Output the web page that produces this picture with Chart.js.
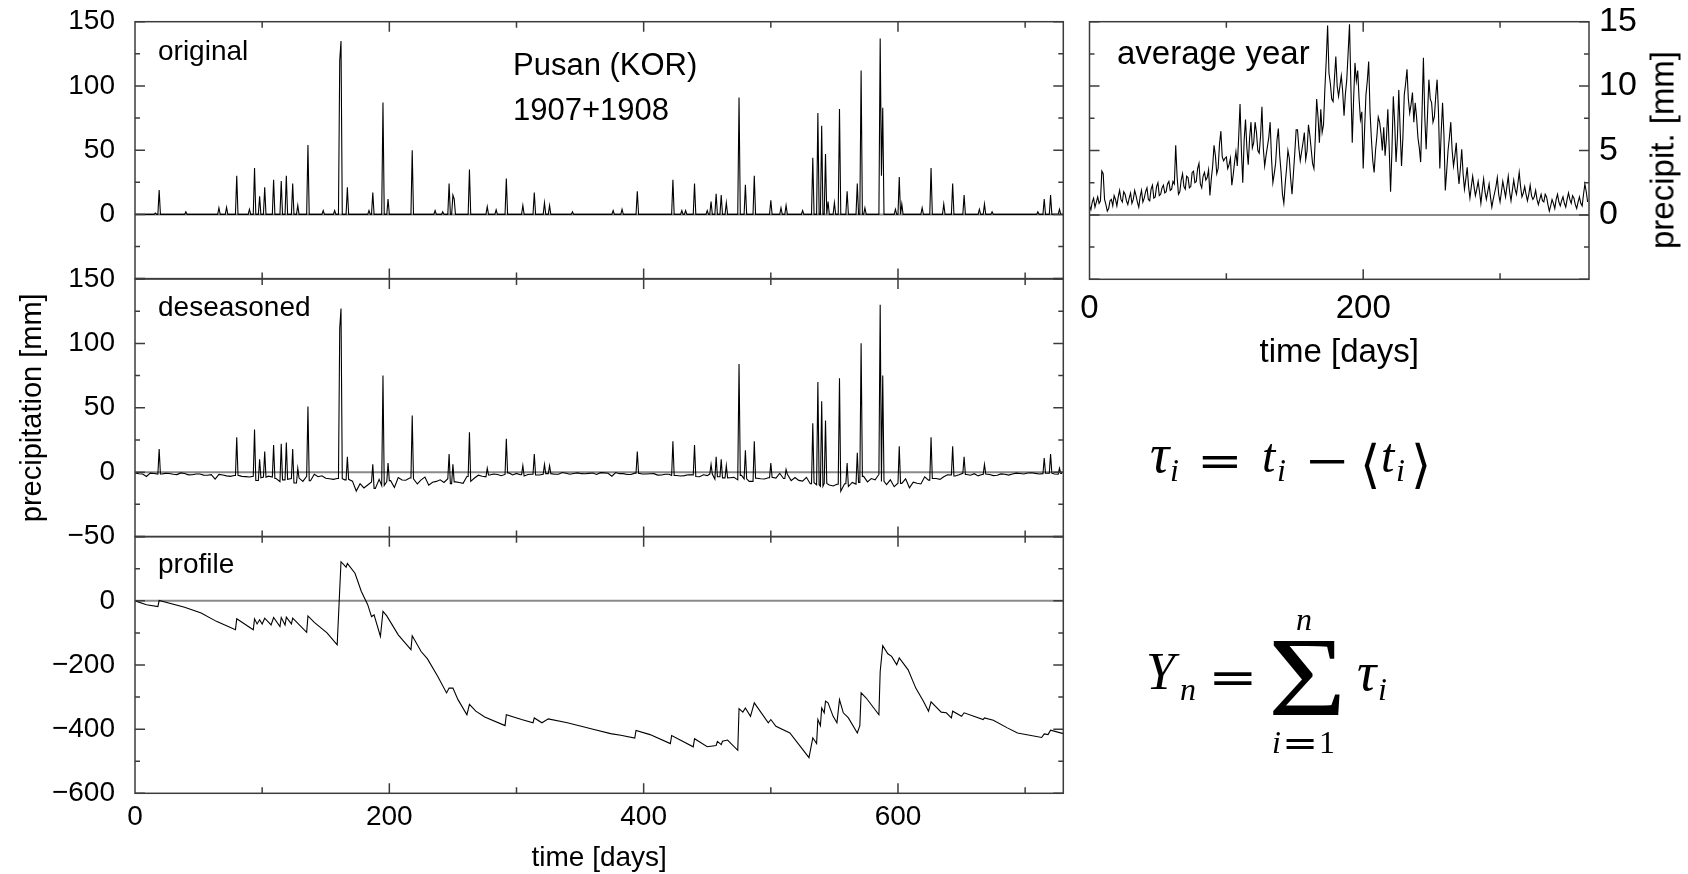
<!DOCTYPE html>
<html><head><meta charset="utf-8">
<script src="https://cdn.jsdelivr.net/npm/chart.js@4.4.1/dist/chart.umd.min.js"></script>
<style>
html,body{margin:0;padding:0;background:#fff;width:1688px;height:874px;overflow:hidden;position:relative;}
canvas{position:absolute;left:0;top:0;}
.t{position:absolute;white-space:nowrap;line-height:1;color:#000;font-family:"Liberation Sans",Arial,Helvetica,sans-serif;}
.m{position:absolute;white-space:nowrap;line-height:1;color:#000;font-family:"Liberation Serif","Times New Roman",serif;transform-origin:0 50%;}
.d{position:absolute;white-space:nowrap;line-height:1;color:#000;font-family:"DejaVu Sans",sans-serif;transform-origin:0 50%;}
</style></head><body>
<canvas id="c1" width="1688" height="874"></canvas>
<canvas id="c2" width="1688" height="874"></canvas>
<canvas id="c3" width="1688" height="874"></canvas>
<canvas id="c4" width="1688" height="874"></canvas>
<script>
// ---------------- DATA ----------------
// original daily precipitation, Pusan 1907+1908 (rainy days only; all other days 0)
const origDays = [16,19,40,66,72, 80,90,94,98,102, 109,115,119,124,128, 136,148,157,161,162, 167,184,187,195,199, 218,236,242,247,250, 251,263,277,284,292, 305,314,322,326,344, 376,383,395,423,430, 433,440,450,453,457, 461,465,475,480,487, 500,508,512,525,533, 537,540,543,545,550, 554,560,568,571,574, 586,587,588,598,601, 603,619,626,636,643, 652,664,668,674,710, 715,720,727];
const origMm   = [1,19,2,5,5.5, 30,4,36,14,21, 27,26,30,24,7, 54,3,3,120,135, 21,3,17,87,12, 50,3,2,24,15, 12,35,6,3.5,28, 7,17,9,7,2, 3,4,18,27,3, 3,24,3,10,16, 15,9,91,23,30, 11,5,7,3,44, 79,69,47,10,9, 82,18,24,112,5, 137,30,83,4,29, 8,5,36,8,24, 15,4,8,2,2, 12,15,4];

// deseasoned series: rainy-day values, and dry-day values sampled every 3 days (day 0..729)
const dsDays = [19,80,94,98,102, 109,115,119,124,128, 136,161,162,167,187, 195,199,218,247,250, 263,277,292,305,314, 322,326,395,423,440, 453,457,461,465,475, 480,487,500,512,533, 537,540,543,554,560, 568,571,586,588,601, 626,643,652,668,715, 720,727];
const dsMm   = [18,27,33,10,16, 21,22,23,18,3, 51,112,127,12,6, 75,7,44,14,6, 31,3,26,5,14, 6,5,16,24,21, 6,12,10,5,84, 17,24,7,2,38, 70,55,40,73,7, 15,100,130,75,20, 27,20,12,6,11, 14,3];
const dsDryDays1 = {start: 0, step: 3};
const dsDry1 = [
 -0.7,-1.3,-1.4,-3.4,-0.8,-1.1,-1.5,-1.4,-1.0,-1.1, -1.7,-1.9,-0.6,-1.0,-2.1,-2.0,-1.4,-1.5,-2.3,-2.4,
 -2.0,-5.4,-1.8,-2.2,-2.9,-3.3,-2.6,-2.4,-3.3,-3.5, -3.8,-3.2,-6.5,-4.4,-3.9,-3.1,-3.8,-5.0,-7.4,-6.0,
 -5.6,-5.0,-8.4,-4.6,-7.2,-3.2,-6.7,-1.6,-3.6,-2.8, -4.8,-5.2,-5.6,-5.0,-5.1,-6.0,-5.6,-7.0,-14.7,-9.0,
 -12.3,-10.0,-7.7,-12.6,-5.6,-10.4,-7.4,-6.6,-11.9,-4.2, -6.1,-6.3,-4.6,-5.2,-9.2,-6.0,-3.8,-10.2,-7.9,-7.2,
 -6.0,-8.0,-5.1,-9.0,-7.6,-8.0,-8.7,-3.4,-7.2,-4.6, -2.4,-3.2,-3.7,-2.2,-1.5,-1.8,-2.8,-1.8,-0.6,-2.2,
 -1.0,-2.0,-3.0,-1.9,-1.6,-2.2,-2.2,-1.6,-1.2,-1.2, -1.6,-1.6,-0.3,-0.9,-1.6,-1.1,-0.6,-1.2,-1.3,-1.0,
 -0.7,-1.8];
const dsDryDays2 = {start: 366, step: 3};
const dsDry2 = [
 -0.4,-0.6,-0.9,-3.2,-0.3,-1.2,-1.2,-1.9,-1.8,-0.8, -0.9,-1.5,-1.4,-1.3,-1.2,-2.3,-2.2,-1.6,-1.7,-2.6,
 -2.6,-3.0,-2.7,-2.0,-2.1,-3.4,-3.6,-2.1,-2.7,-1.5, -5.4,-3.6,-4.5,-4.5,-4.4,-4.1,-6.0,-2.5,-5.2,-7.2,
 -7.2,-4.8,-5.2,-5.3,-4.4,-4.0,-4.6,-0.9,-5.0,-1.6, -6.6,-4.2,-6.4,-7.0,-4.0,-9.0,-8.2,-9.8,-11.0,-8.8,
 -10.0,-10.8,-9.4,-14.8,-9.0,-11.2,-8.0,-9.3,-8.0,-3.3, -7.6,-5.0,-6.0,-1.8,-7.2,-9.7,-6.0,-11.3,-8.6,-8.7,
 -5.2,-12.2,-7.8,-8.7,-9.2,-3.6,-6.2,-5.0,-5.0,-5.6, -3.6,-2.0,-2.2,-3.0,-2.0,-0.9,-1.8,-2.4,-1.2,-2.9,
 -1.8,-1.4,-1.8,-2.7,-2.4,-1.4,-1.6,-2.3,-1.4,-0.8, -1.1,-1.4,-0.7,-0.5,-1.0,-1.4,-1.2,-0.9,-0.8,-1.4,
 -1.6,-1.0];

// profile (cumulative sum of deseasoned series), vertices
const profDays = [0,9,18,19,39, 52,64,79,80,93, 94,96,98,100,102, 107,109,114,115,118, 119,123,124,135,136, 141,151,159,162,166, 167,173,178,183,186, 188,193,195,198,207, 217,218,225,230,238, 245,247,250,254,261, 263,268,275,291,292, 304,313,314,320,325, 340,361,374,382,393, 394,405,421,422,439, 440,450,457,458,461, 462,466,474,475,478, 480,484,487,498,500, 504,515,530,533,536, 537,539,540,542,543, 545,549,552,554,557, 561,568,570,571,575, 585,586,588,592,595, 599,601,608,614,620, 624,626,634,638,642, 643,650,652,667,668, 675,686,694,713,715, 718,720,730];
const profMm   = [0,-12,-18,1,-20, -38,-64,-90,-56,-90, -56,-72,-59,-72,-54, -75,-52,-80,-52,-75, -51,-72,-54,-98,-47, -67,-100,-137,122,105, 117,86,29,-12,-49, -44,-111,-33,-47,-106, -152,-109,-158,-181,-235, -287,-272,-272,-308,-355, -323,-344,-362,-389,-355, -370,-380,-365,-380,-368, -380,-401,-414,-419,-428, -404,-417,-445,-420,-455, -430,-455,-451,-438,-448, -438,-434,-466,-336,-347, -334,-360,-318,-380,-370, -391,-412,-489,-427,-445, -370,-389,-334,-349,-313, -318,-360,-380,-308,-349, -365,-412,-389,-287,-303, -355,-220,-140,-165,-173, -199,-178,-215,-272,-313, -344,-315,-347,-349,-365, -344,-360,-349,-370,-365, -372,-396,-412,-426,-415, -417,-403,-414];

// average year (mean precipitation per day of year), day 0..364
const avgMm = [
 0.7,0.4,1.0,1.3,0.6,1.0,1.4,0.9,1.1,3.4,  3.2,1.2,0.8,0.3,0.5,1.1,1.2,0.7,1.5,1.2,
 0.7,1.4,1.9,1.2,1.0,1.8,1.6,1.1,0.8,1.3,  1.7,0.9,1.2,1.9,1.5,1.0,0.6,1.4,1.9,1.0,
 1.3,1.8,2.1,1.2,1.1,2.0,2.3,1.3,1.4,2.2,  2.5,1.5,1.6,2.1,2.3,1.7,1.8,2.4,2.6,1.9,
 2.0,2.6,2.4,5.4,3.0,1.6,1.8,2.7,3.2,2.2,  2.0,3.0,2.9,2.1,2.2,3.3,3.4,2.5,2.6,3.6,
 4.0,2.4,2.1,3.0,3.3,2.7,2.9,3.5,1.5,2.8,  3.8,5.4,4.6,3.2,3.6,5.5,6.5,4.5,4.2,4.4,
 4.5,3.6,3.9,4.4,2.3,3.1,4.1,4.9,3.8,6.0,  8.6,5.0,2.5,5.8,7.4,5.2,3.9,6.0,7.2,5.2,
 5.6,7.2,6.4,5.0,4.8,6.1,8.4,5.2,3.8,4.6,  5.3,6.0,7.2,4.4,2.5,3.2,4.0,5.8,6.7,4.6,
 3.3,1.6,0.9,2.4,3.6,5.0,4.4,2.8,1.6,3.2,  4.8,6.6,6.6,5.2,4.2,4.9,5.6,6.4,4.3,5.0,
 7.0,6.2,5.1,4.0,3.6,6.0,9.0,7.6,5.6,8.2,  6.4,7.0,9.8,12.0,14.7,11.0,10.2,9.0,8.8,10.6,
 12.3,10.0,9.2,10.0,10.8,9.6,7.7,9.4,10.5,12.6,  14.8,10.0,5.6,9.0,11.8,10.4,11.2,9.0,7.4,8.0,
 3.6,6.6,9.3,10.4,11.9,8.0,5.9,4.2,3.3,5.0,  6.1,7.6,7.2,6.3,5.0,6.8,4.6,6.0,8.2,5.2,
 1.8,5.0,9.2,7.2,4.1,6.0,9.7,6.6,3.8,6.0,  9.3,10.2,11.3,9.0,7.9,8.6,9.5,7.2,8.7,7.6,
 6.0,5.2,4.1,8.0,12.2,7.6,5.1,7.8,10.5,9.0,  8.7,7.2,7.6,9.2,10.5,8.0,3.6,6.4,8.7,6.2,
 1.9,3.4,5.0,6.0,7.2,5.0,3.8,4.6,5.6,3.6,  2.4,3.6,5.1,3.2,2.0,2.8,3.7,2.2,1.3,2.2,
 3.0,2.2,1.5,2.0,2.6,1.8,0.9,1.9,2.8,1.8,  1.2,1.8,2.4,1.4,0.6,1.2,1.7,2.2,2.9,1.6,
 1.0,1.8,2.6,2.0,1.4,2.2,3.0,1.8,1.1,1.9,  2.7,2.0,1.6,2.4,3.3,2.2,1.4,1.7,2.2,1.6,
 1.1,1.6,2.3,1.5,1.2,1.4,1.9,1.2,0.8,1.2,  1.6,1.1,1.0,1.6,1.4,0.8,0.3,0.7,1.2,0.9,
 0.5,1.2,1.6,1.0,0.7,1.1,1.4,0.9,0.6,1.2,  1.7,1.2,0.9,1.5,1.3,0.8,0.5,1.0,1.4,0.9,
 0.7,1.6,2.4,1.8,1.0];

// tick labels and tick marks
const leftXLabels = [0,200,400,600];
const leftXMajor = [200,400,600];
const leftXMinor = [100,300,500,700];
const rightXLabels = [0,200];
const rightXMajor = [200];
const rightXMinor = [100,300];
const topYLabels = [0,50,100,150];
const midYLabels = [-50,0,50,100,150];
const precYMajor = [-50,0,50,100,150];
const precYMinor = [-25,25,75,125];
const profYLabels = [-600,-400,-200,0];
const profYMajor = [-600,-400,-200,0,200];
const profYMinor = [-500,-300,-100,100];
const avgYLabels = [0,5,10,15];
const avgYMajor = [-5,0,5,10,15];
const avgYMinor = [-2.5,2.5,7.5,12.5];

// ---------------- BUILD POINTS ----------------
function spikePoints(days, vals, baseAt) {
  const set = new Set(days), pts = [];
  days.forEach((d, i) => {
    if (!set.has(d - 1)) pts.push({x: d - 1, y: baseAt(d - 1)});
    pts.push({x: d, y: vals[i]});
    if (!set.has(d + 1)) pts.push({x: d + 1, y: baseAt(d + 1)});
  });
  return pts;
}
const origPts = [{x:0,y:0}].concat(spikePoints(origDays, origMm, () => 0), [{x:730,y:0}]).sort((a,b)=>a.x-b.x);
const dsDry = dsDry1.map((v, i) => ({x: dsDryDays1.start + i * dsDryDays1.step, y: v}))
  .concat(dsDry2.map((v, i) => ({x: dsDryDays2.start + i * dsDryDays2.step, y: v})));
const dsNearest = d => dsDry.reduce((b, p) => Math.abs(p.x - d) < Math.abs(b.x - d) ? p : b, dsDry[0]).y;
const dsPts = dsDry.filter(p => !dsDays.some(d => Math.abs(d - p.x) <= 1))
  .concat(spikePoints(dsDays, dsMm, dsNearest)).sort((a,b)=>a.x-b.x);
const profPts = profDays.map((d, i) => ({x: d, y: profMm[i]}));
const avgPts = avgMm.map((v, i) => ({x: i, y: v}));

// ---------------- CHARTS ----------------
const W = 1688, H = 874;
const SANS = '"Liberation Sans", Arial, Helvetica, sans-serif';
const fmt = v => v < 0 ? '\u2212' + Math.abs(v) : String(v);

const framePlugin = {
  id: 'frame',
  beforeDatasetsDraw(chart, _a, o) {
    if (!o || !o.on) return;
    const {ctx, chartArea: a} = chart, y = chart.scales.y;
    const py = y.getPixelForValue(0);
    ctx.save(); ctx.strokeStyle = '#8a8a8a'; ctx.lineWidth = 2;
    ctx.beginPath(); ctx.moveTo(a.left, py); ctx.lineTo(a.right, py); ctx.stroke(); ctx.restore();
  },
  afterDatasetsDraw(chart, _a, o) {
    if (!o || !o.on) return;
    const {ctx, chartArea: a} = chart, x = chart.scales.x, y = chart.scales.y;
    ctx.save(); ctx.strokeStyle = '#3c3c3c'; ctx.lineWidth = 1.5;
    ctx.beginPath();
    const tx = (vals, len) => vals.forEach(v => { const p = x.getPixelForValue(v);
      ctx.moveTo(p, a.top); ctx.lineTo(p, a.top + len); ctx.moveTo(p, a.bottom); ctx.lineTo(p, a.bottom - len); });
    const ty = (vals, len) => vals.forEach(v => { const p = y.getPixelForValue(v);
      ctx.moveTo(a.left, p); ctx.lineTo(a.left + len, p); ctx.moveTo(a.right, p); ctx.lineTo(a.right - len, p); });
    tx(o.xMajor, 10); tx(o.xMinor, 6); ty(o.yMajor, 10); ty(o.yMinor, 5);
    ctx.stroke();
    ctx.strokeRect(a.left, a.top, a.right - a.left, a.bottom - a.top);
    ctx.restore();
  }
};
Chart.register(framePlugin);

function makePanel(id, p) {
  const right = p.yPos === 'right';
  const xShown = !!p.xLabels;
  const xAxisH = xShown ? p.xAxisH : 0;
  const yAxisW = right ? p.yAxisW : p.l;
  const xScale = {
    type: 'linear', min: p.xMin, max: p.xMax, display: xShown,
    grid: {display: false, drawTicks: true, tickLength: p.xGap || 0}, border: {display: false},
    ticks: {font: {family: SANS, size: p.xFont}, color: '#000', padding: 0, autoSkip: false, maxRotation: 0, callback: fmt},
    afterBuildTicks: s => { if (xShown) s.ticks = p.xLabels.map(v => ({value: v})); },
    afterFit: s => { s.height = xAxisH; },
    title: xShown ? {display: true, text: 'time [days]', color: '#000', font: {family: SANS, size: p.xTitleFont, lineHeight: p.xTitleLH}, padding: {top: 0, bottom: 0}} : {display: false}
  };
  const yScale = {
    type: 'linear', position: right ? 'right' : 'left', min: p.yMin, max: p.yMax,
    grid: {display: false, drawTicks: true, tickLength: p.yGap}, border: {display: false},
    ticks: {font: {family: SANS, size: p.yFont}, color: '#000', padding: 0, autoSkip: false, callback: fmt},
    afterBuildTicks: s => { s.ticks = p.yLabels.map(v => ({value: v})); },
    afterFit: s => { s.width = yAxisW; },
    title: p.yTitle ? {display: true, text: p.yTitle, color: '#000', font: {family: SANS, size: 29, lineHeight: 1.2}, padding: {top: 15.6, bottom: 0}} : {display: false}
  };
  return new Chart(document.getElementById(id), {
    type: 'scatter',
    data: {datasets: [{data: p.points, showLine: true, borderColor: '#000', borderWidth: 1.1, pointRadius: 0, pointHoverRadius: 0, tension: 0, fill: false}]},
    options: {
      responsive: false, animation: false, devicePixelRatio: 1, events: [],
      layout: {padding: {
        left: right ? p.l : 0,
        right: right ? (W - p.r - yAxisW) : (W - p.r),
        top: p.t,
        bottom: H - p.b - xAxisH}},
      scales: {x: xScale, y: yScale},
      plugins: {legend: {display: false}, tooltip: {enabled: false},
        frame: {on: true, xMajor: p.xMajor, xMinor: p.xMinor, yMajor: p.yMajor, yMinor: p.yMinor}}
    }
  });
}

makePanel('c1', {l:135, r:1063.3, t:21.7, b:278.6, xMin:0, xMax:730, yMin:-50, yMax:150,
  yLabels: topYLabels, yFont: 28, yGap: 20, xMajor: leftXMajor, xMinor: leftXMinor, yMajor: precYMajor, yMinor: precYMinor, points: origPts});
makePanel('c2', {l:135, r:1063.3, t:279, b:536.5, xMin:0, xMax:730, yMin:-50, yMax:150,
  yLabels: midYLabels, yFont: 28, yGap: 20, yTitle: 'precipitation [mm]', xMajor: leftXMajor, xMinor: leftXMinor, yMajor: precYMajor, yMinor: precYMinor, points: dsPts});
makePanel('c3', {l:135, r:1063.3, t:536.7, b:793.3, xMin:0, xMax:730, yMin:-600, yMax:200,
  yLabels: profYLabels, yFont: 28, yGap: 20, xLabels: leftXLabels, xFont: 28, xGap: 7, xAxisH: 80.7, xTitleFont: 28, xTitleLH: 1.14,
  xMajor: leftXMajor, xMinor: leftXMinor, yMajor: profYMajor, yMinor: profYMinor, points: profPts});
makePanel('c4', {l:1089.5, r:1589, t:21.7, b:279.3, xMin:0, xMax:365, yMin:-5, yMax:15, yPos: 'right', yAxisW: 80,
  yLabels: avgYLabels, yFont: 34, yGap: 10, xLabels: rightXLabels, xFont: 33, xGap: 10, xAxisH: 93.5, xTitleFont: 33, xTitleLH: 1.2,
  xMajor: rightXMajor, xMinor: rightXMinor, yMajor: avgYMajor, yMinor: avgYMinor, points: avgPts});

// ---------------- TEXT ----------------
const ASC = {t: 0.8465, m: 0.8375, d: 0.846};
function put(text, x, base, size, cls, style) {
  const el = document.createElement('div');
  el.className = cls; el.textContent = text;
  el.style.left = x + 'px'; el.style.top = (base - ASC[cls] * size) + 'px'; el.style.fontSize = size + 'px';
  if (style) Object.assign(el.style, style);
  document.body.appendChild(el);
  return el;
}
put('original', 158, 61, 28, 't');
put('deseasoned', 158, 316.7, 28, 't');
put('profile', 158, 573.3, 28, 't');
put('Pusan (KOR)', 513, 75, 31, 't');
put('1907+1908', 513, 120, 31, 't');
put('average year', 1117, 64.3, 33, 't');
// right axis title (reads bottom to top)
const rt = document.createElement('div');
rt.className = 't'; rt.textContent = 'precipit. [mm]';
Object.assign(rt.style, {left: '1662px', top: '150px', fontSize: '33px', transform: 'translate(-50%,-50%) rotate(-90deg)'});
document.body.appendChild(rt);

// formulas
const I = {fontStyle: 'italic'};
const SX = s => ({transform: 'scaleX(' + s + ')'});
put('\u03C4', 1150, 472, 54, 'm', I);
put('i', 1170, 481, 32, 'm', I);
put('=', 1197, 476, 42, 'd', SX(1.3));
put('t', 1262, 472, 48, 'm', I);
put('i', 1277, 481, 32, 'm', I);
put('\u2212', 1304, 476, 42, 'd', SX(1.3));
put('\u27E8', 1360, 482, 52, 'd');
put('t', 1381, 472, 48, 'm', I);
put('i', 1396, 481, 32, 'm', I);
put('\u27E9', 1411, 482, 52, 'd');

put('Y', 1146, 690, 52, 'm', I);
put('n', 1180, 700, 32, 'm', I);
put('=', 1208, 693, 44, 'd', SX(1.35));
put('\u03A3', 1268, 715, 112, 'm', SX(1.2));
put('n', 1296, 630, 32, 'm', I);
put('i', 1272, 753, 32, 'm', I);
put('=', 1282, 755, 36, 'd', SX(1.2));
put('1', 1319, 753, 32, 'm');
put('\u03C4', 1357, 690, 54, 'm', I);
put('i', 1378, 700, 32, 'm', I);
</script>
</body></html>
